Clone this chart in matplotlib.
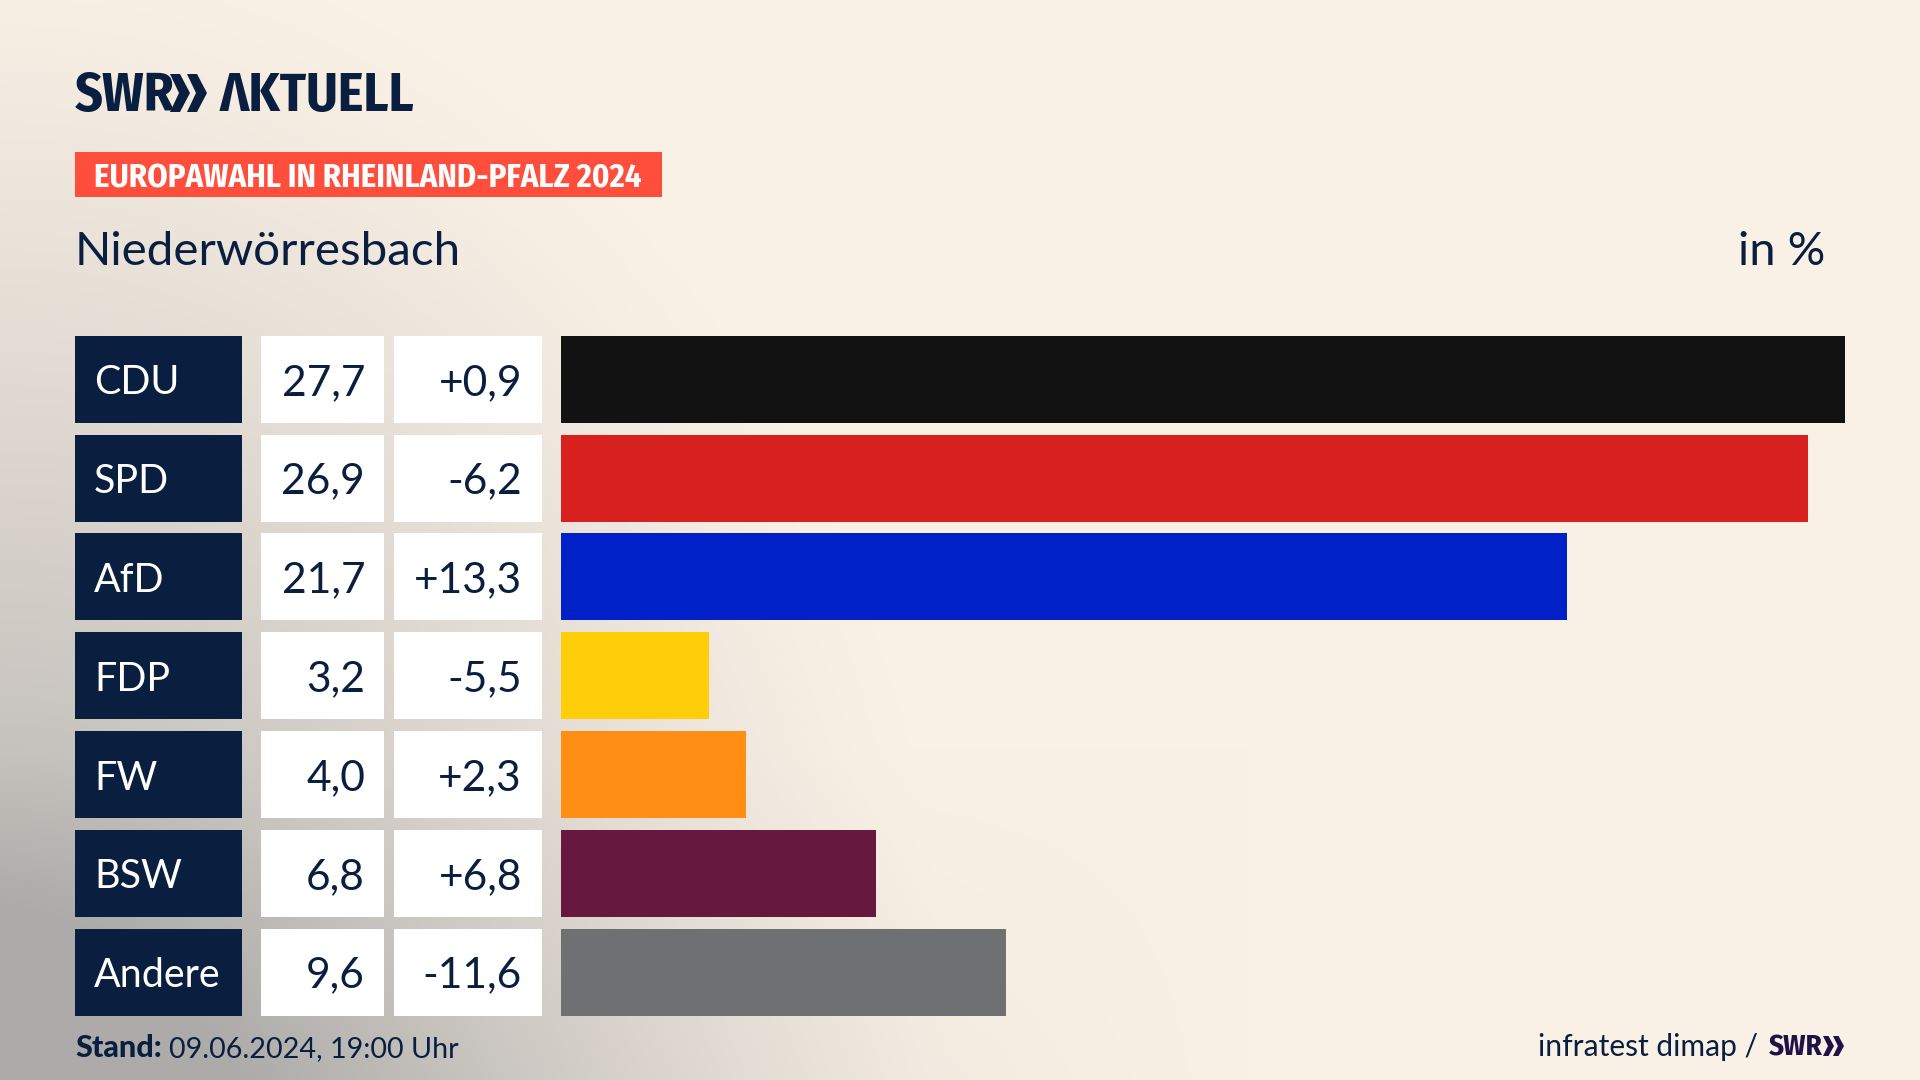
import numpy as np
import matplotlib
matplotlib.use("Agg")
import matplotlib.pyplot as plt
from matplotlib.patches import Rectangle, Polygon

parties = ["CDU", "SPD", "AfD", "FDP", "FW", "BSW", "Andere"]
shares = [27.7, 26.9, 21.7, 3.2, 4.0, 6.8, 9.6]
changes = ["+0,9", "-6,2", "+13,3", "-5,5", "+2,3", "+6,8", "-11,6"]
colors = ["#121212", "#d8201e", "#0021c8", "#ffce09", "#ff8f14", "#66183f", "#6f7072"]

NAVY = "#0a1f3f"
PURPLE = "#1e1246"
NARROW = ["Fira Sans Condensed", "Lato", "DejaVu Sans"]
plt.rcParams["font.family"] = ["Lato", "DejaVu Sans"]

W, H = 1920, 1080
ROW_TOP, ROW_STEP, ROW_H = 335.8, 98.8, 87


def px(size):
    # font size in image pixels
    return size * 0.72


def chevrons(x0, step, top, bottom, w, color):
    mid = (top + bottom) / 2
    for x in (x0, x0 + step):
        bg.add_patch(Polygon([(x, top), (x + w * 0.5, top), (x + w, mid), (x + w * 0.5, bottom), (x, bottom), (x + w * 0.45, mid)],
                             color=color, lw=0))


fig = plt.figure(figsize=(19.2, 10.8), dpi=100)

# background, pixel coordinates
bg = fig.add_axes([0, 0, 1, 1])
bg.set_xlim(0, W)
bg.set_ylim(H, 0)
bg.axis("off")

xx, yy = np.meshgrid(np.linspace(0, W, 480), np.linspace(0, H, 270))
d = np.sqrt((xx / 950) ** 2 + ((H - yy) / 1150) ** 2)
t = np.clip(1 - d, 0, 1) ** 1.2
band = np.clip(1 - (H - yy) / 330, 0, 1) * np.clip(1 - xx / 1250, 0, 1) * 0.35
t = np.clip(t + band, 0, 1)
cream = np.array([250, 241, 230]) / 255
grey = np.array([172, 171, 169]) / 255
img = cream + (grey - cream) * t[..., None]
bg.imshow(img, extent=(0, W, H, 0), aspect="auto", zorder=0)

# logo
bg.text(75, 111, "SWR", fontsize=px(54), family=NARROW, fontweight="bold", color=NAVY, va="baseline")
chevrons(170, 17, 74, 112, 20, NAVY)
bg.text(220, 111, "\u039bKTUELL", fontsize=px(54), family=NARROW, fontweight="bold", color=NAVY, va="baseline")

# tag and title
bg.add_patch(Rectangle((75, 152), 587, 45, color="#ff4f3c", lw=0))
bg.text(94, 175, "EUROPAWAHL IN RHEINLAND-PFALZ 2024", fontsize=px(32.7), family=NARROW, fontweight="bold",
        color="white", va="center_baseline")
bg.text(75, 265, "Niederwörresbach", fontsize=px(47.5), color=NAVY, va="baseline")
bg.text(1825, 265, "in %", fontsize=px(47), color=NAVY, va="baseline", ha="right")

# table cells
for i, (name, share, change) in enumerate(zip(parties, shares, changes)):
    top = ROW_TOP + i * ROW_STEP
    mid = top + ROW_H / 2
    bg.add_patch(Rectangle((75, top), 167, ROW_H, color=NAVY, lw=0))
    bg.add_patch(Rectangle((261, top), 123, ROW_H, color="white", lw=0))
    bg.add_patch(Rectangle((394, top), 148, ROW_H, color="white", lw=0))
    bg.text(94, mid, name, fontsize=px(39.5), color="white", va="center_baseline")
    bg.text(365, mid, f"{share:.1f}".replace(".", ","), fontsize=px(42.5), color=NAVY, va="center_baseline", ha="right")
    bg.text(522, mid, change, fontsize=px(42.5), color=NAVY, va="center_baseline", ha="right")

# bars
y0 = ROW_TOP
y1 = ROW_TOP + 6 * ROW_STEP + ROW_H
ax = fig.add_axes([561 / W, 1 - y1 / H, (1845 - 561) / W, (y1 - y0) / H])
ax.patch.set_alpha(0)
ax.barh(range(len(parties)), shares, height=ROW_H / ROW_STEP, color=colors)
ax.set_xlim(0, max(shares))
ax.set_ylim(6 + ROW_H / ROW_STEP / 2, -ROW_H / ROW_STEP / 2)
ax.axis("off")

# footer
bg.text(75, 1057, "Stand:", fontsize=px(30.5), fontweight="black", color=NAVY, va="baseline")
bg.text(169, 1057, "09.06.2024, 19:00 Uhr", fontsize=px(28.8), color=NAVY, va="baseline")
bg.text(1758, 1056, "infratest dimap /", fontsize=px(30), color=NAVY, va="baseline", ha="right")
bg.text(1769, 1056, "SWR", fontsize=px(29), family=NARROW, fontweight="bold", color=PURPLE, va="baseline")
chevrons(1823, 10, 1036, 1056, 11, PURPLE)

fig.savefig("out.png", dpi=100)
